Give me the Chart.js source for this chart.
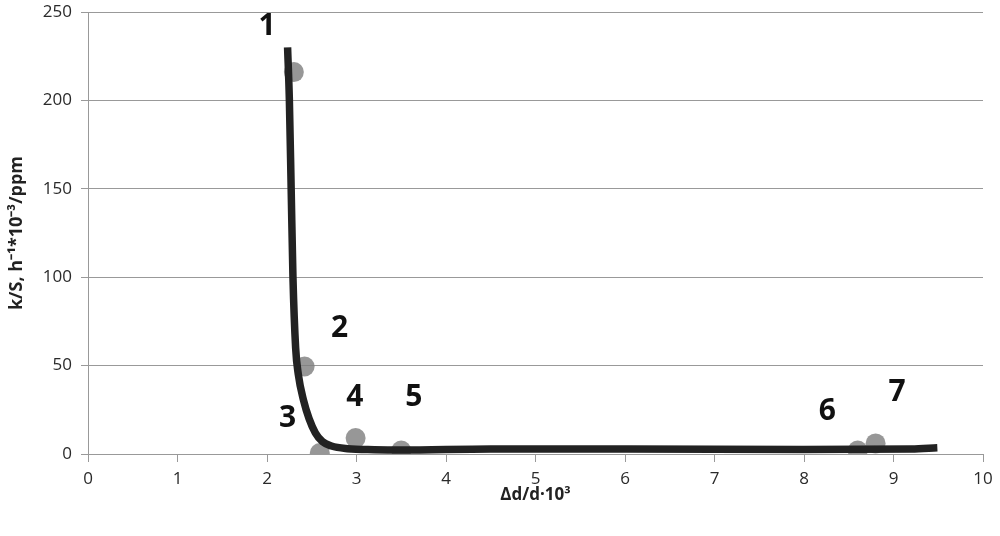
<!DOCTYPE html>
<html>
<head>
<meta charset="utf-8">
<script src="https://cdn.jsdelivr.net/npm/chart.js@4"></script>
<style>
  html, body { margin: 0; padding: 0; background: #fff; }
  #wrap { width: 1000px; height: 536px; }
</style>
</head>
<body>
<div id="wrap"><canvas id="kChart" width="1000" height="536"></canvas></div>
<script>
// measured points (samples 1-7)
const pointX = [2.3, 2.42, 2.59, 2.99, 3.5, 8.6, 8.8];
const pointY = [216, 49.5, 0.5, 9, 2, 2, 6];
const pointLabels = ["1", "2", "3", "4", "5", "6", "7"];
// where each number sits, in data units
const labelX = [2.0, 2.81, 2.23, 2.98, 3.64, 8.26, 9.04];
const labelY = [242, 71, 20, 32, 32, 24, 35];

// fitted curve
const curveX = [2.23, 2.25, 2.27, 2.29, 2.32, 2.35, 2.41, 2.47, 2.54, 2.62, 2.72, 2.9, 3.2, 3.5, 4.5, 6, 8, 9.2, 9.49];
const curveY = [230, 200, 150, 100, 60, 45, 30, 20, 12, 7, 4.5, 3, 2.4, 2.2, 2.8, 2.8, 2.6, 2.8, 3.5];

const xTicks = [0, 1, 2, 3, 4, 5, 6, 7, 8, 9, 10];
const yTicks = [0, 50, 100, 150, 200, 250];

const font = "'Open Sans', 'Liberation Sans', sans-serif";

const numberLabels = {
    id: "numberLabels",
    afterDatasetsDraw(chart) {
        const ctx = chart.ctx;
        const xs = chart.scales.x, ys = chart.scales.y;
        ctx.save();
        ctx.fillStyle = "#111";
        ctx.font = "bold 30px " + font;
        ctx.textAlign = "center";
        ctx.textBaseline = "middle";
        pointLabels.forEach((t, i) => {
            ctx.fillText(t, xs.getPixelForValue(labelX[i]), ys.getPixelForValue(labelY[i]));
        });
        ctx.restore();
    }
};

// keep label overhang from pushing the plot area around
function noOverhang(s) {
    s.paddingTop = 0; s.paddingBottom = 0; s.paddingLeft = 0; s.paddingRight = 0;
}

new Chart(document.getElementById("kChart"), {
    type: "scatter",
    data: {
        datasets: [{
            label: "curve",
            data: curveX.map((x, i) => ({ x: x, y: curveY[i] })),
            showLine: true,
            borderColor: "#222",
            borderWidth: 7.5,
            pointRadius: 0,
            cubicInterpolationMode: "monotone",
            order: 0
        }, {
            label: "samples",
            data: pointX.map((x, i) => ({ x: x, y: pointY[i] })),
            backgroundColor: "rgba(125,125,125,0.8)",
            borderWidth: 0,
            pointRadius: 10,
            order: 1
        }]
    },
    options: {
        responsive: false,
        animation: false,
        layout: { padding: { top: 12, right: 17, left: 0, bottom: 31 } },
        plugins: { legend: { display: false }, tooltip: { enabled: false } },
        scales: {
            x: {
                type: "linear",
                min: 0, max: 10,
                afterBuildTicks: s => { s.ticks = xTicks.map(v => ({ value: v })); },
                afterFit: s => { s.height = 51; noOverhang(s); },
                grid: { drawOnChartArea: false, drawTicks: true, tickLength: 8, color: "#999" },
                border: { color: "#999" },
                ticks: { color: "#2a2a2a", font: { family: font, size: 17 }, padding: 7 },
                title: {
                    display: true, text: "Δd/d·10³", color: "#222",
                    font: { family: font, size: 17, weight: "bold" }, padding: { top: 0, bottom: 0 }
                }
            },
            y: {
                min: 0, max: 250,
                afterBuildTicks: s => { s.ticks = yTicks.map(v => ({ value: v })); },
                afterFit: s => { s.width = 88; noOverhang(s); },
                grid: { color: "#999", tickLength: 7 },
                border: { color: "#999" },
                ticks: { color: "#2a2a2a", font: { family: font, size: 17 }, padding: 9 },
                title: {
                    display: true, text: "k/S, h⁻¹*10⁻³/ppm", color: "#222",
                    font: { family: font, size: 18, weight: "bold" }, padding: { top: 6, bottom: 4 }
                }
            }
        }
    },
    plugins: [numberLabels]
});
</script>
</body>
</html>
